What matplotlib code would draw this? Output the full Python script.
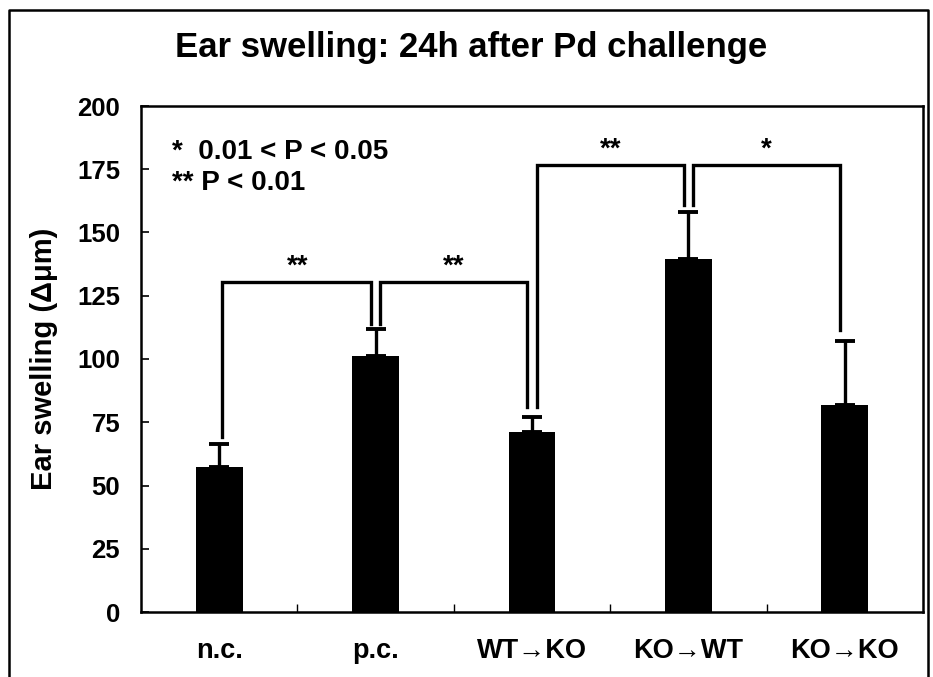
import matplotlib
matplotlib.use("Agg")
import matplotlib.pyplot as plt
from matplotlib.lines import Line2D

plt.rcParams['font.family'] = ['Liberation Sans', 'DejaVu Sans']
plt.rcParams['font.weight'] = 'bold'

categories = ["n.c.", "p.c.", "WT\u2192KO", "KO\u2192WT", "KO\u2192KO"]
means = [57.5, 101, 71, 139.5, 82]
errors = [9, 11, 6, 18.5, 25]
y_ticks = [0, 25, 50, 75, 100, 125, 150, 175, 200]

# significance brackets: (left index, right index, bar height, left end, right end, label)
brackets = [
    (0, 1, 130.5, 69, 114, "**"),
    (1, 2, 130.5, 114, 81, "**"),
    (2, 3, 176.7, 81, 161, "**"),
    (3, 4, 176.7, 161, 111.5, "*"),
]
legend_lines = ["*  0.01 < P < 0.05", "** P < 0.01"]

fig = plt.figure(figsize=(9.33, 6.77), dpi=100)
ax = fig.add_axes([141/933, 65/677, 782/933, 506/677])

x = list(range(len(categories)))
ax.bar(x, means, width=0.3, color='black', zorder=3)
ax.errorbar(x, means, yerr=[[0]*len(errors), errors], fmt='none', ecolor='black',
            elinewidth=2.4, capsize=7, capthick=2.8, zorder=2)

ax.set_xlim(-0.5, len(categories) - 0.5)
ax.set_ylim(0, 200)
ax.set_yticks(y_ticks)
ax.set_yticklabels([str(t) for t in y_ticks], fontsize=18.5, fontweight='bold')
ax.tick_params(axis='y', direction='in', length=6, width=1.2, pad=15)
ax.set_xticks([i + 0.5 for i in x[:-1]])
ax.set_xticklabels([])
ax.tick_params(axis='x', direction='in', length=6, width=1.0)
for i, c in enumerate(categories):
    ax.text(i, -0.052, c, transform=ax.get_xaxis_transform(), ha='center', va='top',
            fontsize=19.5, fontweight='bold')
for s in ax.spines.values():
    s.set_linewidth(1.8)

ax.set_ylabel("Ear swelling (\u0394\u03bcm)", fontsize=21, fontweight='bold', labelpad=14)

off = 0.03
for (i, j, h, yl, yr, lab) in brackets:
    xl = i + off if i != 0 else i + 0.02
    xr = j - off
    ax.plot([xl, xl, xr, xr], [yl, h, h, yr], color='black', lw=2.4,
            solid_joinstyle='miter', zorder=4)
    ax.text((i + j) / 2, h + 1.0, lab, ha='center', va='bottom', fontsize=20,
            fontweight='bold')

ax.text(0.04, 0.91, legend_lines[0], transform=ax.transAxes, fontsize=20,
        fontweight='bold', va='center', ha='left')
ax.text(0.04, 0.847, legend_lines[1], transform=ax.transAxes, fontsize=20,
        fontweight='bold', va='center', ha='left')

fig.text(471/933, 1 - 48/677, "Ear swelling: 24h after Pd challenge", ha='center',
         va='center', fontsize=25, fontweight='bold')

# figure frame
fx0, fx1, fy1 = 9/933, 928/933, 1 - 10/677
fig.add_artist(Line2D([fx0, fx0, fx1, fx1], [-0.01, fy1, fy1, -0.01],
                      transform=fig.transFigure, color='black', lw=1.8))

fig.savefig("out.png", dpi=100)
